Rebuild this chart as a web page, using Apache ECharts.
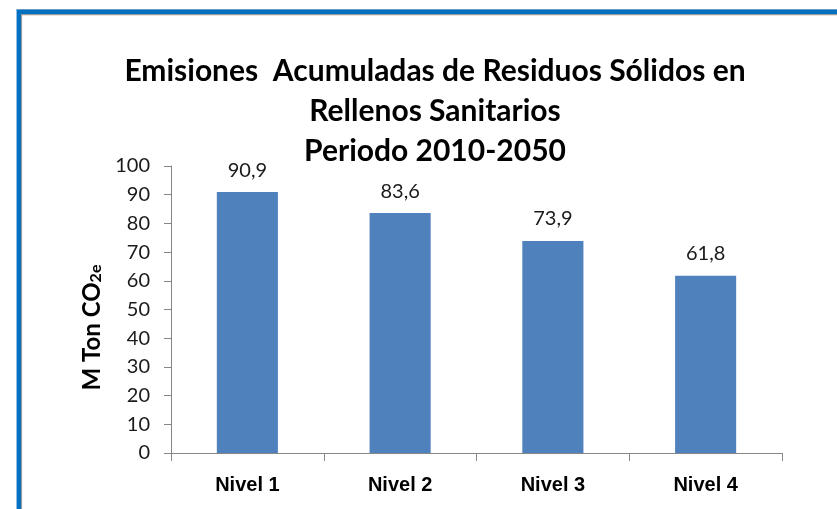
<!DOCTYPE html>
<html>
<head>
<meta charset="utf-8">
<script src="https://cdn.jsdelivr.net/npm/echarts@6/dist/echarts.min.js"></script>
<style>
html,body{margin:0;padding:0;background:#fff;}
#c{width:837px;height:509px;}
</style>
</head>
<body>
<div id="c"></div>
<script>
var categories = ['Nivel 1', 'Nivel 2', 'Nivel 3', 'Nivel 4'];
var values = [90.9, 83.6, 73.9, 61.8];
var yTicks = { min: 0, max: 100, interval: 10 };
var titleText = 'Emisiones  Acumuladas de Residuos Sólidos en\nRellenos Sanitarios\nPeriodo 2010-2050';

var chart = echarts.init(document.getElementById('c'), null, { renderer: 'canvas' });
chart.setOption({
  backgroundColor: '#ffffff',
  animation: false,
  title: {
    text: titleText,
    left: 430,
    textAlign: 'center',
    top: 46,
    textStyle: {
      fontFamily: 'Lato',
      fontWeight: 'bold',
      fontSize: 30,
      lineHeight: 40,
      color: '#000000'
    }
  },
  graphic: [
    { type: 'polyline', shape: { points: [[837, 9.5], [16, 9.5]] }, style: { stroke: '#c8c8c8', lineWidth: 1, fill: null } },
    { type: 'polyline', shape: { points: [[18.8, 509], [18.8, 11.8], [837, 11.8]] }, style: { stroke: '#0070C0', lineWidth: 4.5, fill: null } },
    { type: 'polyline', shape: { points: [[21.5, 509], [21.5, 14.6], [837, 14.6]] }, style: { stroke: '#9a9a9a', lineWidth: 1.2, fill: null } }
  ],
  grid: { left: 171, right: 55, top: 166, bottom: 56, containLabel: false },
  xAxis: {
    type: 'category',
    data: categories,
    axisLine: { show: true, lineStyle: { color: '#868686', width: 1 } },
    axisTick: { show: true, length: 8, lineStyle: { color: '#868686' } },
    axisLabel: {
      margin: 22,
      fontFamily: 'Liberation Sans',
      fontWeight: 'bold',
      fontSize: 20,
      color: '#000000'
    }
  },
  yAxis: {
    type: 'value',
    min: yTicks.min,
    max: yTicks.max,
    interval: yTicks.interval,
    name: 'M Ton CO{sub|2e}',
    nameLocation: 'middle',
    nameRotate: 90,
    nameGap: 63,
    nameTextStyle: {
      fontFamily: 'Lato',
      fontWeight: 'bold',
      fontSize: 24,
      color: '#000000',
      padding: [0, 36, 0, 0],
      rich: {
        sub: { fontFamily: 'Lato', fontWeight: 'bold', fontSize: 16, color: '#000000', padding: [8, 0, 0, 0] }
      }
    },
    splitLine: { show: false },
    axisLine: { show: true, lineStyle: { color: '#868686', width: 1 } },
    axisTick: { show: true, inside: false, length: 7, lineStyle: { color: '#868686' } },
    axisLabel: {
      margin: 21,
      fontFamily: 'Lato',
      fontSize: 20,
      color: '#1a1a1a'
    }
  },
  series: [{
    type: 'bar',
    data: values,
    barWidth: '40%',
    itemStyle: { color: '#4F81BD' },
    label: {
      show: true,
      position: 'top',
      distance: 12,
      fontFamily: 'Lato',
      fontSize: 20,
      color: '#1a1a1a',
      formatter: function (p) { return p.value.toFixed(1).replace('.', ','); }
    }
  }]
});
</script>
</body>
</html>
